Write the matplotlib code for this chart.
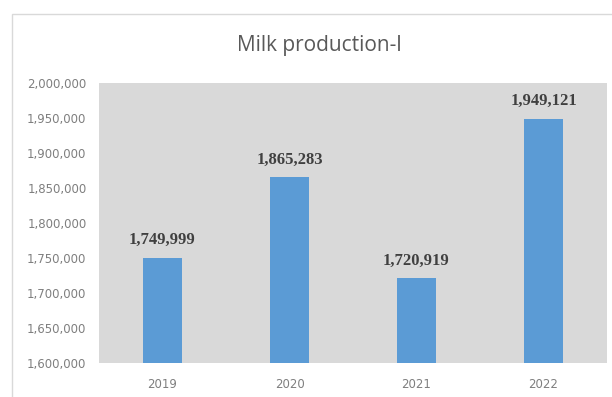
import matplotlib.pyplot as plt
from matplotlib.patches import Rectangle
from matplotlib.ticker import FuncFormatter

years = ["2019", "2020", "2021", "2022"]
production = [1749999, 1865283, 1720919, 1949121]

W, H = 612, 397
fig = plt.figure(figsize=(W / 100, H / 100), dpi=100)
# plot area in pixels: x 99..607, y 83..363
ax = fig.add_axes([99 / W, 1 - 363 / H, 508 / W, 280 / H])

# outer chart frame, like the spreadsheet chart border
fig.patches.append(Rectangle((12 / W, -0.05), 1.1, 1 - 14 / H + 0.05,
                             transform=fig.transFigure, fill=False,
                             edgecolor="#d9d9d9", linewidth=1.0))

ax.set_facecolor("#d9d9d9")
x = range(len(years))
ax.bar(x, production, width=0.31, color="#5b9bd5", zorder=2)

ax.set_ylim(1600000, 2000000)
ax.set_xlim(-0.5, len(years) - 0.5)
ax.set_yticks(range(1600000, 2000001, 50000))
ax.yaxis.set_major_formatter(FuncFormatter(lambda v, p: f"{int(v):,}"))
ax.set_xticks(list(x))
ax.set_xticklabels(years)
ax.tick_params(axis="both", length=0, labelsize=8.5, colors="#7f7f7f")
ax.tick_params(axis="y", pad=9)
ax.tick_params(axis="x", pad=11)
for s in ax.spines.values():
    s.set_visible(False)

for i, v in enumerate(production):
    ax.annotate(f"{v:,}", (i, v), xytext=(0, 7), textcoords="offset points",
                ha="center", va="bottom", fontsize=12, fontweight="bold",
                family="Liberation Serif", color="#404040")

fig.text(319 / W, 1 - 46 / H, "Milk production-l", ha="center", va="center",
         fontsize=15, color="#595959", family="Open Sans")

fig.savefig("out.png", dpi=100)
